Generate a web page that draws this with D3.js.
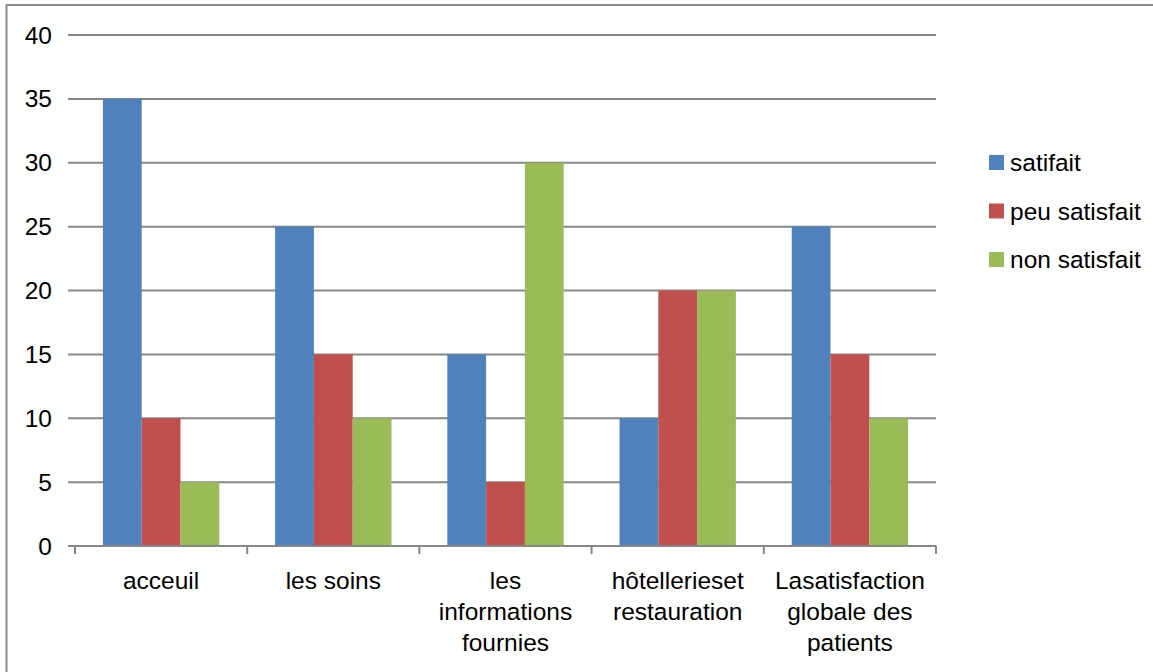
<!DOCTYPE html>
<html>
<head>
<meta charset="utf-8">
<script src="https://cdn.jsdelivr.net/npm/d3@7"></script>
<style>
  body { margin: 0; background: #fff; }
  svg text { font-family: "Liberation Sans", Arial, sans-serif; fill: #000; }
</style>
</head>
<body>
<div id="chart"></div>
<script>
const categories = ['acceuil', 'les soins', 'les informations fournies', 'hôtelleries et restauration', 'La satisfaction globale des patients'];
// lines as they wrap on the axis
const categoryLines = [
  ['acceuil'],
  ['les soins'],
  ['les', 'informations', 'fournies'],
  ['hôtellerieset', 'restauration'],
  ['Lasatisfaction', 'globale des', 'patients']
];
const seriesNames = ['satifait', 'peu satisfait', 'non satisfait'];
const satifait = [35, 25, 15, 10, 25];
const peuSatisfait = [10, 15, 5, 20, 15];
const nonSatisfait = [5, 10, 30, 20, 10];
const yTicks = [0, 5, 10, 15, 20, 25, 30, 35, 40];
const colors = ['#4F81BD', '#C0504D', '#9BBB59'];

const w = 1153;
const h = 672;
const fontSize = '24.5px';

const seriesValues = [satifait, peuSatisfait, nonSatisfait];
const rows = categories.map((c, i) => ({
  cat: c,
  values: seriesNames.map((s, j) => ({ name: s, value: seriesValues[j][i] }))
}));

const svg = d3.select('#chart').append('svg').attr('width', w).attr('height', h);

// outer frame (left + top edges visible)
svg.append('path')
  .attr('d', `M6.5,${h} L6.5,5 L${w},5`)
  .attr('fill', 'none')
  .attr('stroke', '#8c8c8c')
  .attr('stroke-width', 2);

const x0 = d3.scaleBand().domain(categories).range([75, 936]).paddingInner(0).paddingOuter(0);
const x1 = d3.scaleBand().domain(seriesNames).range([0, x0.bandwidth()]).paddingInner(0).paddingOuter(0.72);
const y = d3.scaleLinear().domain([0, 40]).range([546, 35]);

// gridlines
svg.append('g')
  .selectAll('line')
  .data(yTicks.filter(d => d > 0))
  .enter()
  .append('line')
  .attr('x1', 68).attr('x2', 936)
  .attr('y1', d => y(d)).attr('y2', d => y(d))
  .attr('stroke', '#878787')
  .attr('stroke-width', 2);

// y tick labels
svg.append('g')
  .selectAll('text')
  .data(yTicks)
  .enter()
  .append('text')
  .attr('x', 52)
  .attr('y', d => y(d) + 8.5)
  .attr('text-anchor', 'end')
  .style('font-size', fontSize)
  .text(d => d);

// bars
const groups = svg.append('g')
  .selectAll('g')
  .data(rows)
  .enter()
  .append('g')
  .attr('transform', d => `translate(${x0(d.cat)},0)`);

groups.selectAll('rect')
  .data(d => d.values)
  .enter()
  .append('rect')
  .attr('x', d => x1(d.name))
  .attr('width', x1.bandwidth())
  .attr('y', d => y(d.value))
  .attr('height', d => y(0) - y(d.value))
  .attr('fill', (d, i) => colors[i]);

// x axis baseline + ticks
const axis = svg.append('g');
axis.append('line')
  .attr('x1', 68).attr('x2', 936)
  .attr('y1', y(0)).attr('y2', y(0))
  .attr('stroke', '#878787').attr('stroke-width', 2);

const bounds = categories.map(c => x0(c)).concat([x0.range()[1]]);
axis.selectAll('line.tick')
  .data(bounds)
  .enter()
  .append('line')
  .attr('class', 'tick')
  .attr('x1', d => d).attr('x2', d => d)
  .attr('y1', y(0)).attr('y2', y(0) + 8)
  .attr('stroke', '#878787').attr('stroke-width', 2);

// category labels
const labels = svg.append('g')
  .selectAll('text')
  .data(categories)
  .enter()
  .append('text')
  .attr('text-anchor', 'middle')
  .style('font-size', fontSize);

labels.each(function(d, i) {
  const cx = x0(d) + x0.bandwidth() / 2;
  d3.select(this).selectAll('tspan')
    .data(categoryLines[i])
    .enter()
    .append('tspan')
    .attr('x', cx)
    .attr('y', (l, k) => 589 + k * 31)
    .text(l => l);
});

// legend
const legend = svg.append('g')
  .selectAll('g')
  .data(seriesNames)
  .enter()
  .append('g')
  .attr('transform', (d, i) => `translate(989,${155 + i * 48.5})`);

legend.append('rect')
  .attr('width', 15).attr('height', 15)
  .attr('fill', (d, i) => colors[i]);

legend.append('text')
  .attr('x', 21)
  .attr('y', 16)
  .style('font-size', fontSize)
  .text(d => d);
</script>
</body>
</html>
